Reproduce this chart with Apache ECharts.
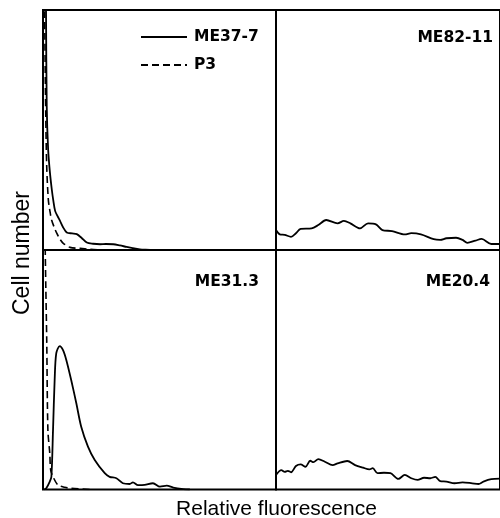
<!DOCTYPE html>
<html><head><meta charset="utf-8">
<script src="https://cdn.jsdelivr.net/npm/echarts@6/dist/echarts.min.js"></script>
<style>html,body{margin:0;padding:0;background:#fff}#c{width:500px;height:518px}</style>
</head><body><div id="c"></div>
<script>
// Panel names
const panelNames = ['ME37-7', 'ME82-11', 'ME31.3', 'ME20.4'];
const controlName = 'P3';
const xTitle = 'Relative fluorescence';
const yTitle = 'Cell number';

// [relative fluorescence (0-100), cell number (0-100 of panel height)]
const ME37_7 = [[1.0,150],[1.3,100],[1.6,60],[2.2,42],[3.0,32],[3.8,25],[4.4,20.8],[5.2,16.3],[6.2,14.2],[7.3,12.1],[8.6,9.5],[10.2,7.3],[12.5,6.9],[14.5,6.6],[16.6,5],[18.8,3.1],[21.5,2.6],[24.5,2.4],[27,2.5],[30.2,2.4],[33,1.9],[35.9,1.3],[38.5,0.8],[41.6,0.3],[44,0.1],[46,0]];
const P3_a = [[0.4,150],[0.8,90],[1.2,55],[1.6,34.7],[2.3,20.8],[3.0,16],[3.7,12.5],[4.8,9.5],[5.9,7],[7.3,4.5],[8.7,2.8],[11.6,1.1],[15.9,0.7],[20,0.3],[24,0]];
const ME82_11 = [[0,8.3],[1.7,6.5],[3.9,6.3],[6.7,5.5],[8.9,7.0],[11.0,8.8],[15.9,9.0],[18.9,10.4],[22.4,12.5],[27.5,11.1],[30.3,12.1],[33.2,11.1],[37.5,9.0],[41.1,11.1],[44.6,10.7],[47.5,8.3],[51.8,7.9],[57.5,6.5],[60.4,7.0],[64.7,6.5],[70.4,4.5],[73.3,4.2],[76.1,4.9],[80.4,5.1],[83.3,4.2],[85.4,3.0],[89.0,3.9],[91.8,4.6],[96.1,2.5],[100,2.5]];
const ME31_3 = [[0.5,0],[1.4,0.5],[2.9,3.3],[3.6,5.3],[4.3,24.8],[5.0,45.7],[5.7,56.9],[7.2,59.9],[8.6,58.2],[10.0,54.1],[12.1,45.7],[14.3,36.0],[16.4,26.2],[19.3,17.9],[22.2,12.3],[26.5,6.8],[28.6,5.3],[31.5,4.7],[34.3,2.6],[37.2,2.3],[38.6,3.0],[40.8,1.8],[43.6,1.9],[47.2,2.6],[50.2,1.2],[53.1,1.6],[55.9,0.8],[60.2,0.2],[63,0]];
const P3_b = [[0.8,110],[1.2,85],[1.6,62.4],[2.1,24.8],[2.9,15.2],[3.3,8.1],[4.3,5.3],[6.4,1.9],[9.3,0.9],[12,0.5],[20,0]];
const ME20_4 = [[0,6.1],[2.4,8.1],[3.9,7.4],[5.3,7.8],[6.7,7.2],[8.9,9.8],[11.0,10.5],[13.2,9.5],[15.3,12.0],[16.7,11.4],[18.9,12.7],[21.8,11.6],[25.3,10.2],[27.5,10.9],[31.8,11.9],[35.3,10.2],[38.9,9.1],[41.7,8.4],[43.2,8.9],[45.3,6.8],[48.2,7.0],[51.1,6.8],[54.6,4.4],[57.5,6.1],[60.4,4.7],[63.2,4.0],[66.1,4.9],[68.9,4.7],[71.1,5.3],[73.3,3.5],[76.1,3.3],[79.7,2.6],[83.3,3.0],[87.6,2.6],[90.4,2.3],[92.6,3.3],[96.1,4.3],[100,4.5]];

const chart = echarts.init(document.getElementById('c'), null, {renderer: 'canvas'});
const grids = [
  {left: 43, top: 10, width: 233, height: 240},
  {left: 276, top: 10, width: 233, height: 240},
  {left: 43, top: 250, width: 233, height: 239.5},
  {left: 276, top: 250, width: 233, height: 239.5}
].map(g => Object.assign(g, {show: true, borderColor: '#000', borderWidth: 2, backgroundColor: 'transparent', containLabel: false}));

const axisBase = {type: 'value', min: 0, max: 100, axisLine: {show: false}, axisTick: {show: false}, axisLabel: {show: false}, splitLine: {show: false}};
const xAxes = grids.map((g, i) => Object.assign({gridIndex: i}, axisBase));
const yAxes = grids.map((g, i) => Object.assign({gridIndex: i}, axisBase));

const solid = {color: '#000', width: 1.8, type: 'solid'};
const dashed = {color: '#000', width: 1.6, type: [7, 4]};
function line(name, data, idx, style) {
  return {name, type: 'line', data, xAxisIndex: idx, yAxisIndex: idx, symbol: 'none', smooth: 0.3,
    clip: true, lineStyle: style, itemStyle: {color: '#000'}, silent: true, animation: false};
}
const series = [
  line(panelNames[0], ME37_7, 0, solid),
  line(controlName, P3_a, 0, dashed),
  line(panelNames[1], ME82_11, 1, solid),
  line(panelNames[2], ME31_3, 2, solid),
  line(controlName + ' ', P3_b, 2, dashed),
  line(panelNames[3], ME20_4, 3, solid)
];

const labelFont = {fontFamily: 'DejaVu Sans', fontWeight: 'bold', fontSize: 15.5, color: '#000'};
chart.setOption({
  animation: false,
  backgroundColor: '#fff',
  grid: grids, xAxis: xAxes, yAxis: yAxes, series,
  legend: {
    data: [panelNames[0], controlName], orient: 'vertical', left: 140, top: 29, padding: 0,
    itemWidth: 46, itemHeight: 14, itemGap: 12, selectedMode: false,
    itemStyle: {color: 'rgba(0,0,0,0)', borderColor: 'rgba(0,0,0,0)', borderWidth: 0},
    textStyle: Object.assign({padding: [0, 0, 0, 2]}, labelFont)
  },
  title: [
    {text: panelNames[1], right: 7, top: 30, textStyle: labelFont, padding: 0},
    {text: panelNames[2], left: 259, textAlign: 'right', top: 274, textStyle: labelFont, padding: 0},
    {text: panelNames[3], left: 490, textAlign: 'right', top: 274, textStyle: labelFont, padding: 0}
  ],
  graphic: [
    {type: 'text', x: 276.5, y: 509, style: {text: xTitle, font: '21px "Liberation Sans"', fill: '#000', align: 'center', verticalAlign: 'middle'}},
    {type: 'text', x: 22.5, y: 253, rotation: Math.PI / 2, style: {text: yTitle, font: '23px "Liberation Sans"', fill: '#000', align: 'center', verticalAlign: 'middle'}}
  ]
});
</script></body></html>
